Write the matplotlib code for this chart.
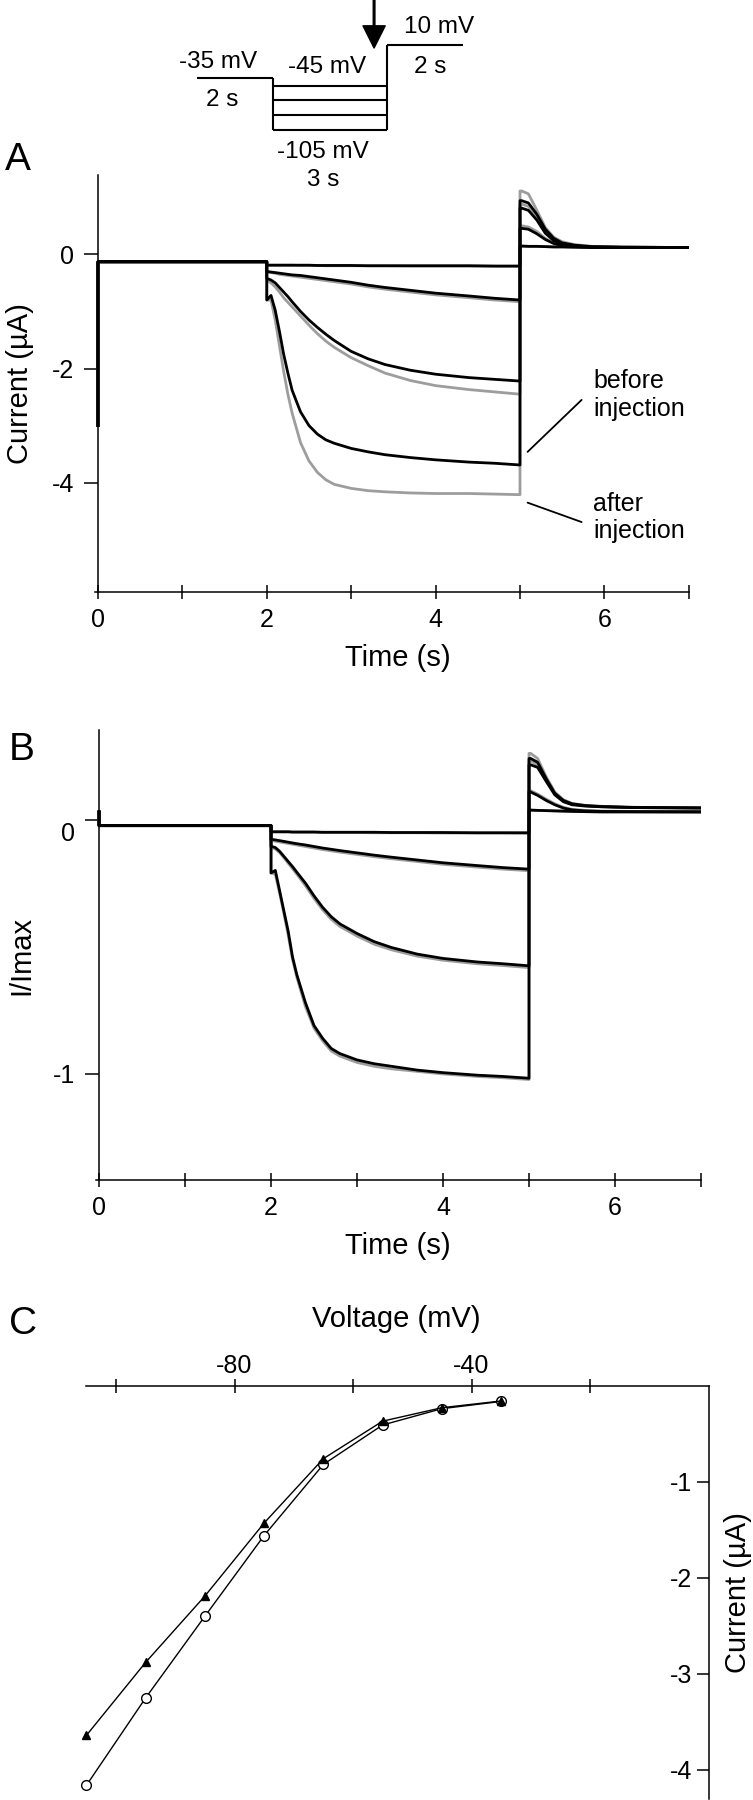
#!/usr/bin/env python3
"""Three-panel figure: raw currents (A), normalised currents (B), I-V curve (C).

Traces are drawn black (before injection) over grey (after injection).
The voltage protocol sketch sits above panel A.
"""

import matplotlib

matplotlib.use("Agg")
import matplotlib.pyplot as plt

plt.rcParams["font.family"] = ["Liberation Sans", "DejaVu Sans"]
plt.rcParams["axes.unicode_minus"] = False

FIG_W, FIG_H = 753, 1800  # pixels, dpi 100
BLACK = "black"
GRAY = "#9d9d9d"
TICK_FS = 18
LABEL_FS = 21

# ---- voltage protocol (schematic above A) ----
PROTO_HOLD_MV = -35
PROTO_STEPS_MV = [-45, -65, -85, -105]
PROTO_TEST_MV = 10
PROTO_EDGES_S = [0, 2, 5, 7]

# ---- sweep time bases (s) ----
HOLD_T = [0.0, 0.0, 2.0]
STEP_T = [2.0, 2.05, 2.1, 2.15, 2.2, 2.25, 2.3, 2.4, 2.5, 2.6,
          2.7, 2.8, 3.0, 3.2, 3.4, 3.7, 4.0, 4.4, 4.7, 5.0]
TAIL_T = [5.0, 5.02, 5.1, 5.2, 5.3, 5.4, 5.5, 5.65, 5.85, 6.2, 7.0]

# ---- panel A: current (uA) ----
A_HOLD = [-3.0, -0.13, -0.13]
A_BLACK_45 = [-0.19, -0.19, -0.19, -0.19, -0.19, -0.19, -0.19, -0.19, -0.19, -0.195,
              -0.195, -0.195, -0.195, -0.2, -0.2, -0.2, -0.2, -0.2, -0.205, -0.205]
A_GRAY_45 = [-0.19, -0.19, -0.19, -0.19, -0.19, -0.19, -0.19, -0.195, -0.195, -0.195,
             -0.2, -0.2, -0.2, -0.2, -0.2, -0.205, -0.205, -0.205, -0.21, -0.21]
A_BLACK_65 = [-0.30, -0.31, -0.32, -0.33, -0.34, -0.35, -0.36, -0.37, -0.39, -0.41,
              -0.43, -0.45, -0.49, -0.54, -0.58, -0.63, -0.68, -0.73, -0.77, -0.80]
A_GRAY_65 = [-0.31, -0.32, -0.33, -0.35, -0.36, -0.37, -0.38, -0.40, -0.42, -0.44,
             -0.46, -0.48, -0.52, -0.57, -0.61, -0.66, -0.71, -0.76, -0.80, -0.83]
A_BLACK_85 = [-0.42, -0.45, -0.50, -0.58, -0.66, -0.74, -0.83, -1.00, -1.15, -1.28,
              -1.40, -1.51, -1.70, -1.83, -1.93, -2.03, -2.10, -2.16, -2.19, -2.22]
A_GRAY_85 = [-0.45, -0.50, -0.57, -0.66, -0.76, -0.84, -0.92, -1.08, -1.24, -1.39,
             -1.52, -1.63, -1.81, -1.95, -2.08, -2.21, -2.30, -2.37, -2.41, -2.45]
A_BLACK_105 = [-0.80, -0.72, -0.98, -1.35, -1.75, -2.08, -2.38, -2.76, -3.00, -3.15,
               -3.25, -3.31, -3.40, -3.46, -3.51, -3.56, -3.60, -3.64, -3.66, -3.69]
A_GRAY_105 = [-0.80, -0.80, -1.15, -1.60, -2.05, -2.45, -2.78, -3.30, -3.62, -3.82,
              -3.95, -4.03, -4.10, -4.14, -4.16, -4.18, -4.19, -4.19, -4.20, -4.21]

A_TAIL_BLACK_45 = [0.145, 0.145, 0.14, 0.14, 0.135, 0.13, 0.13, 0.125, 0.12, 0.12, 0.12]
A_TAIL_GRAY_45 = [0.145, 0.145, 0.14, 0.14, 0.135, 0.13, 0.13, 0.125, 0.12, 0.12, 0.12]
A_TAIL_BLACK_65 = [0.455, 0.455, 0.44, 0.36, 0.26, 0.19, 0.155, 0.135, 0.125, 0.12, 0.12]
A_TAIL_GRAY_65 = [0.50, 0.50, 0.48, 0.40, 0.28, 0.20, 0.16, 0.14, 0.13, 0.125, 0.12]
A_TAIL_BLACK_85 = [0.81, 0.81, 0.77, 0.60, 0.37, 0.24, 0.18, 0.15, 0.13, 0.125, 0.12]
A_TAIL_GRAY_85 = [0.88, 0.88, 0.84, 0.65, 0.40, 0.26, 0.19, 0.155, 0.135, 0.125, 0.12]
A_TAIL_BLACK_105 = [0.94, 0.94, 0.90, 0.70, 0.44, 0.28, 0.20, 0.16, 0.135, 0.125, 0.12]
A_TAIL_GRAY_105 = [1.11, 1.11, 1.06, 0.77, 0.47, 0.30, 0.22, 0.17, 0.14, 0.125, 0.12]

# ---- panel B: I/Imax ----
B_HOLD = [0.03, -0.024, -0.024]
B_BLACK_45 = [-0.048, -0.048, -0.048, -0.048, -0.048, -0.049, -0.049, -0.049, -0.049, -0.05,
              -0.05, -0.05, -0.05, -0.05, -0.051, -0.051, -0.051, -0.052, -0.052, -0.052]
B_GRAY_45 = [-0.049, -0.049, -0.049, -0.049, -0.049, -0.05, -0.05, -0.05, -0.05, -0.051,
             -0.051, -0.051, -0.051, -0.052, -0.052, -0.052, -0.053, -0.053, -0.053, -0.054]
B_BLACK_65 = [-0.078, -0.080, -0.083, -0.086, -0.089, -0.092, -0.095, -0.100, -0.106, -0.112,
              -0.117, -0.122, -0.131, -0.140, -0.148, -0.159, -0.170, -0.181, -0.189, -0.195]
B_GRAY_65 = [-0.082, -0.085, -0.088, -0.091, -0.094, -0.097, -0.100, -0.106, -0.112, -0.118,
             -0.123, -0.128, -0.137, -0.146, -0.154, -0.165, -0.176, -0.187, -0.195, -0.201]
B_BLACK_85 = [-0.105, -0.110, -0.125, -0.145, -0.165, -0.185, -0.207, -0.250, -0.300, -0.345,
              -0.382, -0.410, -0.448, -0.480, -0.503, -0.529, -0.546, -0.560, -0.567, -0.575]
B_GRAY_85 = [-0.110, -0.115, -0.130, -0.150, -0.172, -0.193, -0.215, -0.260, -0.310, -0.355,
             -0.392, -0.420, -0.458, -0.490, -0.512, -0.537, -0.553, -0.567, -0.574, -0.582]
B_BLACK_105 = [-0.210, -0.200, -0.280, -0.360, -0.440, -0.540, -0.610, -0.720, -0.810, -0.860,
               -0.900, -0.920, -0.945, -0.960, -0.970, -0.985, -0.995, -1.005, -1.010, -1.017]
B_GRAY_105 = [-0.210, -0.215, -0.290, -0.370, -0.455, -0.550, -0.620, -0.735, -0.820, -0.870,
              -0.910, -0.930, -0.955, -0.970, -0.980, -0.990, -1.000, -1.010, -1.015, -1.022]

B_TAIL_BLACK_45 = [0.037, 0.037, 0.036, 0.035, 0.034, 0.033, 0.032, 0.031, 0.030, 0.030, 0.030]
B_TAIL_GRAY_45 = [0.037, 0.037, 0.036, 0.035, 0.034, 0.033, 0.032, 0.031, 0.030, 0.030, 0.030]
B_TAIL_BLACK_65 = [0.109, 0.108, 0.095, 0.075, 0.058, 0.045, 0.038, 0.034, 0.032, 0.031, 0.030]
B_TAIL_GRAY_65 = [0.115, 0.113, 0.100, 0.080, 0.062, 0.048, 0.040, 0.036, 0.033, 0.032, 0.031]
B_TAIL_BLACK_85 = [0.215, 0.215, 0.205, 0.150, 0.097, 0.070, 0.058, 0.053, 0.050, 0.047, 0.045]
B_TAIL_GRAY_85 = [0.230, 0.230, 0.215, 0.155, 0.100, 0.073, 0.060, 0.054, 0.050, 0.047, 0.045]
B_TAIL_BLACK_105 = [0.240, 0.240, 0.225, 0.160, 0.103, 0.075, 0.062, 0.055, 0.051, 0.048, 0.046]
B_TAIL_GRAY_105 = [0.260, 0.260, 0.240, 0.168, 0.108, 0.078, 0.063, 0.056, 0.052, 0.048, 0.046]

# ---- panel C: I-V ----
C_VOLT = [-105, -95, -85, -75, -65, -55, -45, -35]
C_BEFORE = [-3.64, -2.88, -2.19, -1.43, -0.76, -0.37, -0.23, -0.16]   # triangles
C_AFTER = [-4.16, -3.25, -2.40, -1.56, -0.82, -0.41, -0.24, -0.165]   # circles


def px_box(left, top, right, bottom):
    """Axes rect from pixel edges (origin top-left)."""
    return [left / FIG_W, 1 - bottom / FIG_H, (right - left) / FIG_W, (bottom - top) / FIG_H]


def sweep(hold, step, tail):
    return HOLD_T + STEP_T + TAIL_T, hold + step + tail


def draw_traces(ax, hold, gray, black):
    for step, tail in gray:
        t, v = sweep(hold, step, tail)
        ax.plot(t, v, color=GRAY, lw=2.0, solid_joinstyle="round")
    for step, tail in black:
        t, v = sweep(hold, step, tail)
        ax.plot(t, v, color=BLACK, lw=2.0, solid_joinstyle="round")


def time_axis(ax):
    ax.patch.set_visible(False)
    for side in ("top", "right"):
        ax.spines[side].set_visible(False)
    ax.spines["left"].set_position(("data", 0))
    for side in ("left", "bottom"):
        ax.spines[side].set_linewidth(1.1)
    ax.set_xticks(range(8))
    ax.set_xticklabels(["0", "", "2", "", "4", "", "6", ""])
    ax.tick_params(axis="x", direction="inout", length=9.5, width=1.1, pad=7, labelsize=TICK_FS)
    ax.tick_params(axis="y", direction="out", length=10, width=1.1, pad=7, labelsize=TICK_FS)


fig = plt.figure(figsize=(FIG_W / 100, FIG_H / 100), dpi=100)

# ---------------- panel A ----------------
axA = fig.add_axes(px_box(94.6, 175, 688.8, 591.7))
axA.set_xlim(-0.04, 7)
axA.set_ylim(-5.91, 1.39)
draw_traces(
    axA, A_HOLD,
    gray=[(A_GRAY_45, A_TAIL_GRAY_45), (A_GRAY_65, A_TAIL_GRAY_65),
          (A_GRAY_85, A_TAIL_GRAY_85), (A_GRAY_105, A_TAIL_GRAY_105)],
    black=[(A_BLACK_45, A_TAIL_BLACK_45), (A_BLACK_65, A_TAIL_BLACK_65),
           (A_BLACK_85, A_TAIL_BLACK_85), (A_BLACK_105, A_TAIL_BLACK_105)],
)
time_axis(axA)
axA.set_yticks([0, -2, -4])
axA.set_yticklabels(["0", "-2", "-4"])
axA.set_xlabel("Time (s)", fontsize=LABEL_FS, va="center")
axA.xaxis.set_label_coords(0.51, -0.16)
axA.set_ylabel("Current (µA)", fontsize=LABEL_FS, va="center")
axA.yaxis.set_label_coords(-0.126, 0.5)
lead = dict(arrowstyle="-", lw=1.3, color=BLACK, shrinkA=0, shrinkB=0)
axA.annotate("", xy=(5.09, -3.46), xytext=(5.73, -2.55), arrowprops=lead, annotation_clip=False)
axA.annotate("", xy=(5.09, -4.35), xytext=(5.73, -4.69), arrowprops=lead, annotation_clip=False)
axA.text(5.865, -2.46, "before\ninjection", fontsize=18, ha="left", va="center")
axA.text(5.865, -4.61, "after\ninjection", fontsize=18, ha="left", va="center")

# ---------------- protocol sketch (drawn after A so "3 s" stays on top) ----------------
axP = fig.add_axes(px_box(197, 45, 463, 130))
axP.set_xlim(PROTO_EDGES_S[0], PROTO_EDGES_S[-1])
axP.set_ylim(min(PROTO_STEPS_MV), PROTO_TEST_MV)
axP.axis("off")
pk = dict(color=BLACK, lw=1.5, clip_on=False, solid_capstyle="butt")
t0, t1, t2, t3 = PROTO_EDGES_S
axP.plot([t0, t1], [PROTO_HOLD_MV, PROTO_HOLD_MV], **pk)
axP.plot([t1, t1], [PROTO_HOLD_MV, min(PROTO_STEPS_MV)], **pk)
for mv in PROTO_STEPS_MV:
    axP.plot([t1, t2], [mv, mv], **pk)
axP.plot([t2, t2], [min(PROTO_STEPS_MV), PROTO_TEST_MV], **pk)
axP.plot([t2, t3], [PROTO_TEST_MV, PROTO_TEST_MV], **pk)
ptxt = dict(fontsize=17.5, ha="center", va="center", clip_on=False)
axP.text(0.56, -12.6, "-35 mV", **ptxt)
axP.text(0.66, -64.4, "2 s", **ptxt)
axP.text(3.42, -19.8, "-45 mV", **ptxt)
axP.text(6.37, 34.4, "10 mV", **ptxt)
axP.text(6.13, -19.8, "2 s", **ptxt)
axP.text(3.31, -134.4, "-105 mV", **ptxt)
axP.text(3.31, -172.7, "3 s", **ptxt)
axP.annotate("", xy=(4.66, 5.9), xytext=(4.66, 70.9), annotation_clip=False,
             arrowprops=dict(facecolor=BLACK, edgecolor=BLACK, width=1.2,
                             headwidth=16, headlength=16, shrink=0))

# ---------------- panel B ----------------
axB = fig.add_axes(px_box(95.6, 730.5, 701, 1180))
axB.set_xlim(-0.04, 7)
axB.set_ylim(-1.417, 0.35)
draw_traces(
    axB, B_HOLD,
    gray=[(B_GRAY_45, B_TAIL_GRAY_45), (B_GRAY_65, B_TAIL_GRAY_65),
          (B_GRAY_85, B_TAIL_GRAY_85), (B_GRAY_105, B_TAIL_GRAY_105)],
    black=[(B_BLACK_45, B_TAIL_BLACK_45), (B_BLACK_65, B_TAIL_BLACK_65),
           (B_BLACK_85, B_TAIL_BLACK_85), (B_BLACK_105, B_TAIL_BLACK_105)],
)
time_axis(axB)
axB.set_yticks([0, -1])
axB.set_yticklabels(["", "-1"])
# the "0" label sits a little below its tick in the original
axB.annotate("0", xy=(0, 0), xytext=(-17.5, -8.6), textcoords="offset points",
             fontsize=TICK_FS, ha="right", va="center_baseline", annotation_clip=False)
axB.set_xlabel("Time (s)", fontsize=LABEL_FS, va="center")
axB.xaxis.set_label_coords(0.5, -0.147)
axB.set_ylabel("I/Imax", fontsize=LABEL_FS, va="center")
axB.yaxis.set_label_coords(-0.123, 0.5)

# ---------------- panel C ----------------
axC = fig.add_axes(px_box(86.4, 1385.6, 708.5, 1798.8))
axC.patch.set_visible(False)
axC.set_xlim(-105, 0)
axC.set_ylim(-4.3, 0)
axC.plot(C_VOLT, C_AFTER, "-o", color=BLACK, lw=1.0, ms=7, mfc="white", mew=1.0, clip_on=False)
axC.plot(C_VOLT, C_BEFORE, "-^", color=BLACK, lw=1.0, ms=6, clip_on=False)
axC.spines["bottom"].set_visible(False)
axC.spines["right"].set_visible(False)
axC.spines["left"].set_position(("data", 0))
for side in ("left", "top"):
    axC.spines[side].set_linewidth(1.1)
axC.xaxis.tick_top()
axC.xaxis.set_label_position("top")
axC.set_xticks([-100, -80, -60, -40, -20])
axC.set_xticklabels(["", "-80", "", "-40", ""])
axC.set_yticks([-1, -2, -3, -4])
axC.set_yticklabels(["-1", "-2", "-3", "-4"])
axC.tick_params(axis="x", direction="inout", length=9.5, width=1.1, pad=1, labelsize=TICK_FS)
axC.tick_params(axis="y", direction="out", length=8.7, width=1.1, pad=3.2, labelsize=TICK_FS)
axC.set_xlabel("Voltage (mV)", fontsize=LABEL_FS, va="center")
axC.xaxis.set_label_coords(0.498, 1.162)
axC.set_ylabel("Current (µA)", fontsize=LABEL_FS, va="center")
axC.yaxis.set_label_coords(1.047, 0.5)

# ---------------- panel letters ----------------
for letter, (x, y) in (("A", (17.5, 160)), ("B", (22, 750)), ("C", (23, 1324))):
    fig.text(x / FIG_W, 1 - y / FIG_H, letter, fontsize=28, ha="center", va="center")

fig.savefig("out.png", dpi=100)
